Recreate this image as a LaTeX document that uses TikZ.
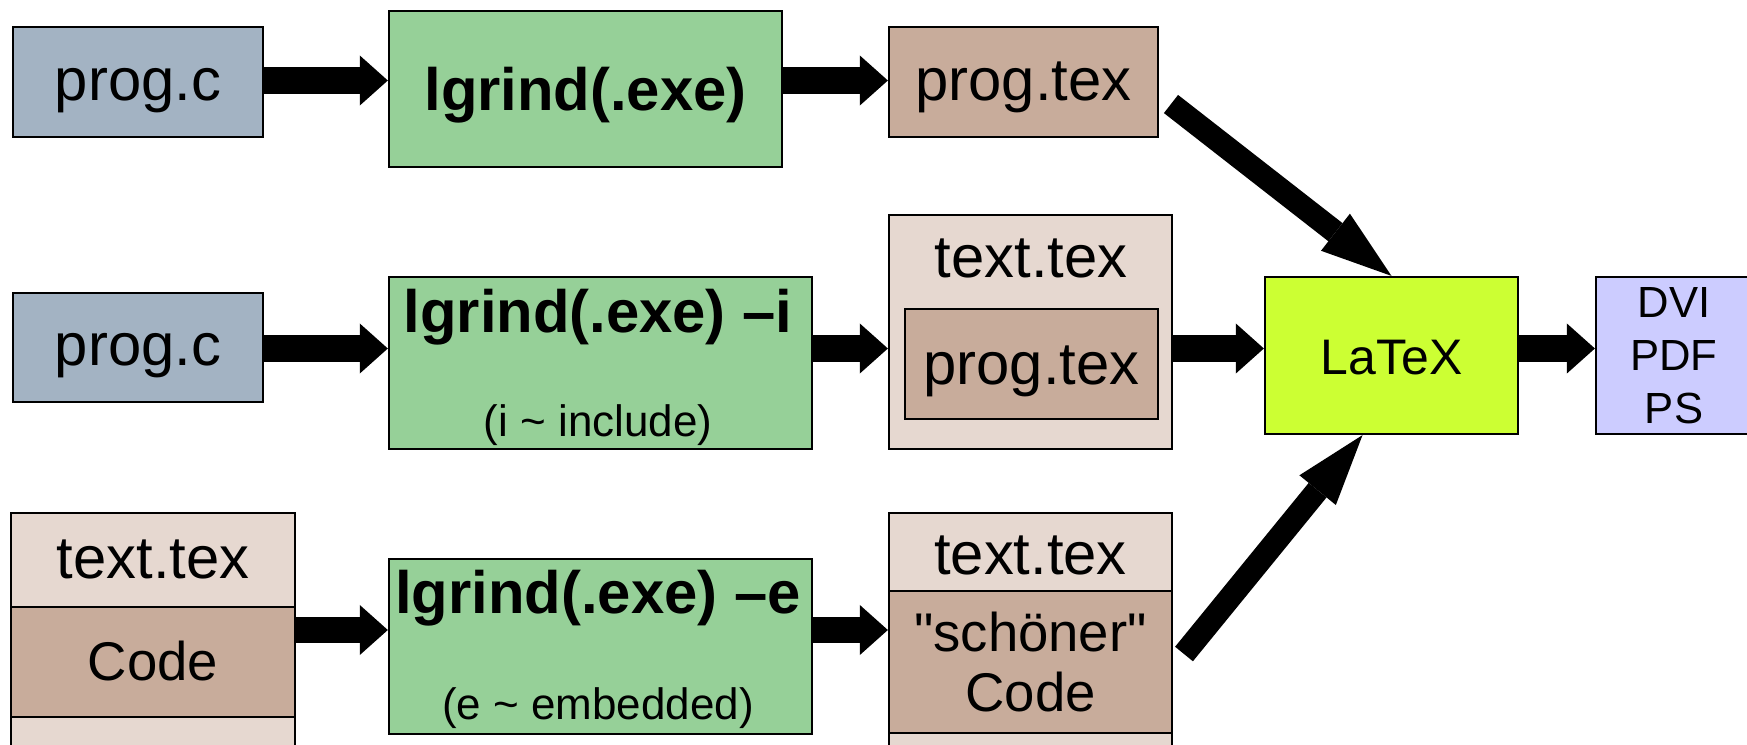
\documentclass[tikz,border=0pt]{standalone}
\usepackage{fontspec}
\setmainfont{Liberation Sans}
\usetikzlibrary{arrows.meta}
\definecolor{srcblue}{RGB}{163,179,195}
\definecolor{toolgreen}{RGB}{150,208,152}
\definecolor{texbrown}{RGB}{200,172,155}
\definecolor{docbeige}{RGB}{230,216,208}
\definecolor{latexlime}{RGB}{204,255,51}
\definecolor{outlilac}{RGB}{204,204,255}
\begin{document}
\begin{tikzpicture}[x=0.01cm,y=-0.01cm,
  box/.style={draw=black,line width=0.6pt,inner sep=0pt},
  lbl/.style={font=\fontsize{17}{20}\selectfont,text height=0.48cm,text depth=0.12cm},
  toolname/.style={font=\bfseries\fontsize{17}{20}\selectfont},
  toolnote/.style={font=\fontsize{12.5}{15}\selectfont},
  flow/.style={line width=0.26cm,-{Triangle[length=0.28cm,width=0.5cm,line width=0pt]}},
  bigflow/.style={line width=0.23cm,-{Triangle[length=0.71cm,width=0.47cm,line width=0pt]}}]
\useasboundingbox (0,0) rectangle (1747,745);
\clip (0,0) rectangle (1747,745);
\node[box,lbl,fill=srcblue,minimum width=2.5cm,minimum height=1.1cm] (progc1) at (138,82) {prog.c};
\node[box,toolname,fill=toolgreen,minimum width=3.93cm,minimum height=1.56cm,text height=0.54cm,text depth=0.12cm] (lgrind1) at (585.5,89) {lgrind(.exe)};
\node[box,lbl,fill=texbrown,minimum width=2.69cm,minimum height=1.1cm] (progtex1) at (1023.5,82) {prog.tex};
\node[box,lbl,fill=srcblue,minimum width=2.5cm,minimum height=1.09cm] (progc2) at (138,347.5) {prog.c};
\node[box,fill=toolgreen,minimum width=4.23cm,minimum height=1.72cm] (lgrind2) at (600.5,363) {};
\node[toolname,anchor=base] (lgrind2a) at (598,332) {lgrind(.exe) \textendash i};
\node[toolnote,anchor=base] (lgrind2b) at (598,436) {(i \textasciitilde{} include)};
\node[box,fill=docbeige,minimum width=2.83cm,minimum height=2.34cm] (texttex2) at (1030.5,332) {};
\node[lbl,anchor=base] (texttex2a) at (1031,277) {text.tex};
\node[box,lbl,fill=texbrown,minimum width=2.53cm,minimum height=1.1cm,text height=0.52cm] (progtex2) at (1031.5,364) {prog.tex};
\node[box,fill=latexlime,minimum width=2.53cm,minimum height=1.57cm,font=\fontsize{14.2}{17}\selectfont,text height=0.38cm,text depth=0cm] (latex) at (1391.5,355.5) {LaTeX};
\node[box,fill=outlilac,minimum width=1.56cm,minimum height=1.57cm,align=center,font=\fontsize{12.4}{15}\selectfont] (out) at (1674,355.5) {DVI\\PDF\\PS};
\node[box,lbl,fill=docbeige,minimum width=2.84cm,minimum height=0.94cm] (texttex3) at (153,560) {text.tex};
\node[box,lbl,fill=texbrown,minimum width=2.84cm,minimum height=1.1cm,font=\fontsize{15.5}{18}\selectfont] (code3) at (153,662) {Code};
\node[box,fill=docbeige,minimum width=2.84cm,minimum height=0.5cm] (rest3) at (153,742) {};
\node[box,fill=toolgreen,minimum width=4.23cm,minimum height=1.75cm] (lgrind3) at (600.5,646.5) {};
\node[toolname,anchor=base] (lgrind3a) at (598,613) {lgrind(.exe) \textendash e};
\node[toolnote,anchor=base] (lgrind3b) at (598,719) {(e \textasciitilde{} embedded)};
\node[box,lbl,fill=docbeige,minimum width=2.83cm,minimum height=0.78cm,text height=0.56cm] (texttex4) at (1030.5,552) {text.tex};
\node[box,fill=texbrown,minimum width=2.83cm,minimum height=1.42cm,align=center,font=\fontsize{15.5}{17}\selectfont] (code4) at (1030.5,662) {\textquotedbl sch\"oner\textquotedbl\\Code};
\node[box,fill=docbeige,minimum width=2.83cm,minimum height=0.37cm] (rest4) at (1030.5,751.5) {};
\coordinate (row1) at (0,80.5);
\coordinate (row2) at (0,348.5);
\coordinate (row3) at (0,630);
\coordinate (from1) at (1171,104);
\coordinate (from3) at (1184,654);
\draw[flow] (progc1.east |- row1) -- (lgrind1.west |- row1);
\draw[flow] (lgrind1.east |- row1) -- (progtex1.west |- row1);
\draw[flow] (progc2.east |- row2) -- (lgrind2.west |- row2);
\draw[flow] (lgrind2.east |- row2) -- (texttex2.west |- row2);
\draw[flow] (texttex2.east |- row2) -- (latex.west |- row2);
\draw[flow] (latex.east |- row2) -- (out.west |- row2);
\draw[flow] (code3.east |- row3) -- (lgrind3.west |- row3);
\draw[flow] (lgrind3.east |- row3) -- (code4.west |- row3);
\draw[bigflow] (from1) -- (latex.north);
\draw[bigflow] (from3) -- (latex.250);
\end{tikzpicture}
\end{document}
